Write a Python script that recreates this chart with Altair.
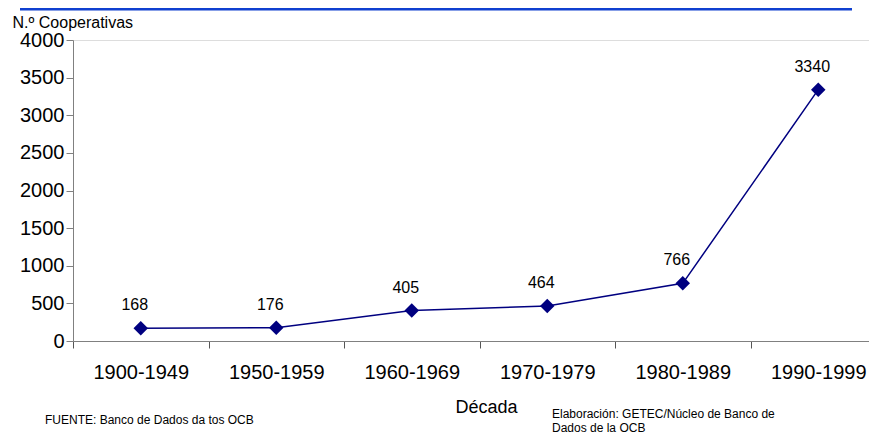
import altair as alt
import pandas as pd

decadas = ["1900-1949", "1950-1959", "1960-1969", "1970-1979", "1980-1989", "1990-1999"]
cooperativas = [168, 176, 405, 464, 766, 3340]
y_ticks = [0, 500, 1000, 1500, 2000, 2500, 3000, 3500, 4000]
y_title = "N.º Cooperativas"
x_title = "Década"
fuente = "FUENTE: Banco de Dados da tos OCB"
elaboracion = ["Elaboración: GETEC/Núcleo de Banco de", "Dados de la OCB"]

df = pd.DataFrame({"decada": decadas, "n": cooperativas})

FONT = "Liberation Sans"
NAVY = "#000080"
PLOT_H = 301

x_enc = alt.X(
    "decada:N",
    sort=decadas,
    scale=alt.Scale(range=[0, 813], paddingInner=0, paddingOuter=0),
    axis=alt.Axis(
        title=x_title,
        titleFont=FONT,
        titleFontSize=18,
        titleFontWeight="normal",
        titleColor="#000000",
        titleX=413,
        titleY=71,
        titleBaseline="alphabetic",
        labelAngle=0,
        labelFont=FONT,
        labelFontSize=20,
        labelColor="#000000",
        labelPadding=14,
        tickBand="extent",
        tickSize=7,
        tickColor="#555555",
        domainColor="#808080",
        labelOverlap=False,
    ),
)
y_enc = alt.Y(
    "n:Q",
    scale=alt.Scale(domain=[0, 4000], nice=False),
    axis=alt.Axis(
        values=y_ticks,
        format="d",
        labelOverlap=False,
        title=y_title,
        titleAngle=0,
        titleAlign="left",
        titleBaseline="alphabetic",
        titleX=-61,
        titleY=-13,
        titleFont=FONT,
        titleFontSize=16,
        titleFontWeight="normal",
        titleColor="#000000",
        labelFont=FONT,
        labelFontSize=20,
        labelColor="#000000",
        labelPadding=2,
        tickSize=7,
        tickColor="#808080",
        domainColor="#808080",
        grid=False,
    ),
)

base = alt.Chart(df).encode(x=x_enc, y=y_enc)

line = base.mark_line(color=NAVY, strokeWidth=1.5)
points = base.mark_point(shape="diamond", filled=True, size=210, color=NAVY, opacity=1)
labels = base.mark_text(
    font=FONT, fontSize=16, color="#000000", dx=-6, dy=-18, baseline="alphabetic"
).encode(text="n:Q")

top_bar = alt.Chart(pd.DataFrame({"a": [0]})).mark_rule(color="#1040D0", strokeWidth=3).encode(
    x=alt.value(-53), x2=alt.value(779), y=alt.value(-31)
)

fuente_txt = alt.Chart(pd.DataFrame({"t": [fuente]})).mark_text(
    font=FONT, fontSize=12, color="#000000", align="left", baseline="alphabetic"
).encode(x=alt.value(-28), y=alt.value(384), text="t:N")

elab_txt = alt.Chart(pd.DataFrame({"t": [elaboracion]})).mark_text(
    font=FONT, fontSize=12, color="#000000", align="left", baseline="alphabetic", lineHeight=14
).encode(x=alt.value(479), y=alt.value(378), text="t:N")

chart = (
    alt.layer(top_bar, line, points, labels, fuente_txt, elab_txt)
    .properties(
        width=796,
        height=PLOT_H,
        autosize=alt.AutoSizeParams(type="none"),
        padding={"left": 65, "top": 32, "right": 0, "bottom": 94},
    )
    .configure_view(stroke=None)
    .configure(font=FONT)
)

chart.save("out.html", embed_options={"renderer": "svg", "actions": False})
